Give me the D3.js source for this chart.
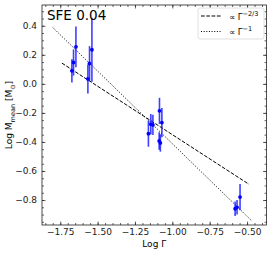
<!DOCTYPE html>
<html>
<head>
<meta charset="utf-8">
<script src="https://cdn.jsdelivr.net/npm/d3@7"></script>
<style>
  body { margin: 0; background: #fff; }
  text { font-family: "DejaVu Sans", sans-serif; }
</style>
</head>
<body>
<div id="chart"></div>
<script>
// data
var logGamma = [-1.672, -1.661, -1.645, -1.565, -1.554, -1.538,
                -1.160, -1.144, -1.130, -1.086, -1.070, -1.088, -1.080,
                -0.580, -0.567, -0.547];
var logM = [0.090, 0.147, 0.255, 0.034, 0.140, 0.235,
            -0.343, -0.278, -0.283, -0.186, -0.267, -0.393, -0.407,
            -0.860, -0.850, -0.780];
var errM = [0.08, 0.09, 0.14, 0.10, 0.12, 0.22,
            0.09, 0.07, 0.07, 0.09, 0.10, 0.06, 0.06,
            0.05, 0.05, 0.09];
var xTicks = [-1.75, -1.50, -1.25, -1.00, -0.75, -0.50];
var yTicks = [-0.8, -0.6, -0.4, -0.2, 0.0, 0.2, 0.4];
// reference power laws: [x0, y0, x1, slope]
var dashLine = [-1.739, 0.143, -0.487, -2 / 3];
var dotLine = [-1.800, 0.388, -0.470, -1];

var W = 274, H = 254;
var margin = {left: 42, top: 5, right: 7.5, bottom: 29};
var pw = W - margin.left - margin.right,
    ph = H - margin.top - margin.bottom;

var svg = d3.select("#chart").append("svg")
    .attr("width", W).attr("height", H);
var g = svg.append("g").attr("transform", "translate(" + margin.left + "," + margin.top + ")");

var x = d3.scaleLinear().domain([-1.872, -0.37]).range([0, pw]);
var y = d3.scaleLinear().domain([-0.972, 0.543]).range([ph, 0]);

var fmt = function(d) { return d3.format(".2f")(d).replace("-", "\u2212"); };
var fmtY = function(d) { return d3.format(".1f")(d).replace("-", "\u2212"); };

// axes with inward ticks on all sides
var xMinor = d3.range(-1.85, -0.36, 0.05);
var yMinor = d3.range(-0.95, 0.55, 0.05);

function ticks(axis, vals, len, fmtf, pad) {
  return axis.tickValues(vals).tickSizeInner(-len).tickSizeOuter(0).tickPadding(pad || 3)
    .tickFormat(fmtf || "");
}
g.append("g").attr("transform", "translate(0," + ph + ")").call(ticks(d3.axisBottom(x), xMinor, 2));
g.append("g").attr("transform", "translate(0," + ph + ")").call(ticks(d3.axisBottom(x), xTicks, 3.5, fmt, 3.5));
g.append("g").call(ticks(d3.axisTop(x), xMinor, 2));
g.append("g").call(ticks(d3.axisTop(x), xTicks, 3.5));
g.append("g").call(ticks(d3.axisLeft(y), yMinor, 2));
g.append("g").call(ticks(d3.axisLeft(y), yTicks, 3.5, fmtY, 5));
g.append("g").attr("transform", "translate(" + pw + ",0)").call(ticks(d3.axisRight(y), yMinor, 2));
g.append("g").attr("transform", "translate(" + pw + ",0)").call(ticks(d3.axisRight(y), yTicks, 3.5));

g.selectAll(".domain").remove();
g.selectAll(".tick line").attr("stroke", "#222").attr("stroke-width", 0.7);
g.selectAll(".tick text").attr("font-size", 9).attr("fill", "#222")
  .attr("font-family", "DejaVu Sans");

g.append("rect").attr("width", pw).attr("height", ph)
  .attr("fill", "none").attr("stroke", "#222").attr("stroke-width", 0.8);

// power law lines
function lawPath(p) {
  return d3.line()([[x(p[0]), y(p[1])], [x(p[2]), y(p[1] + p[3] * (p[2] - p[0]))]]);
}
g.append("path").attr("d", lawPath(dashLine)).attr("stroke", "#000")
  .attr("stroke-width", 1).attr("stroke-dasharray", "3.7,1.6").attr("fill", "none");
g.append("path").attr("d", lawPath(dotLine)).attr("stroke", "#000")
  .attr("stroke-width", 1).attr("stroke-dasharray", "1,1.65").attr("fill", "none");

// error bars and points
var pts = logGamma.map(function(v, i) { return {x: v, y: logM[i], e: errM[i]}; });
g.selectAll(".err").data(pts).enter().append("line")
  .attr("x1", function(d) { return x(d.x); }).attr("x2", function(d) { return x(d.x); })
  .attr("y1", function(d) { return y(d.y - d.e); }).attr("y2", function(d) { return y(d.y + d.e); })
  .attr("stroke", "#0000ff").attr("stroke-width", 1.6).attr("opacity", 0.75);
g.selectAll(".pt").data(pts).enter().append("circle")
  .attr("cx", function(d) { return x(d.x); }).attr("cy", function(d) { return y(d.y); })
  .attr("r", 1.9).attr("fill", "#0000ff");

// title text
g.append("text").attr("x", 5).attr("y", 14.5).attr("font-size", 13.5).attr("fill", "#000")
  .text("SFE 0.04");

// legend
var lg = svg.append("g").attr("transform", "translate(198,8)");
lg.append("rect").attr("width", 66).attr("height", 31).attr("rx", 2)
  .attr("fill", "#fff").attr("stroke", "#d8d8d8").attr("stroke-width", 0.8);
lg.append("line").attr("x1", 3).attr("x2", 23).attr("y1", 8).attr("y2", 8)
  .attr("stroke", "#000").attr("stroke-width", 1).attr("stroke-dasharray", "3.7,1.6");
lg.append("line").attr("x1", 3).attr("x2", 23).attr("y1", 23.5).attr("y2", 23.5)
  .attr("stroke", "#000").attr("stroke-width", 1).attr("stroke-dasharray", "1,1.65");
var l1 = lg.append("text").attr("x", 31).attr("y", 11.5).attr("font-size", 8.5);
l1.append("tspan").text("\u221d \u0393");
l1.append("tspan").attr("dy", -3.8).attr("font-size", 6.5).text("\u22122/3");
var l2 = lg.append("text").attr("x", 31).attr("y", 27).attr("font-size", 8.5);
l2.append("tspan").text("\u221d \u0393");
l2.append("tspan").attr("dy", -3.8).attr("font-size", 6.5).text("\u22121");

// axis labels
svg.append("text").attr("x", margin.left + pw / 2).attr("y", 247)
  .attr("text-anchor", "middle").attr("font-size", 9).text("Log \u0393");
var yl = svg.append("text").attr("transform", "translate(12," + (margin.top + ph / 2) + ") rotate(-90)")
  .attr("text-anchor", "middle").attr("font-size", 9);
yl.append("tspan").text("Log M");
yl.append("tspan").attr("dy", 2.5).attr("font-size", 6.5).text("mean");
yl.append("tspan").attr("dy", -2.5).text(" [M");
yl.append("tspan").attr("dy", 2.5).attr("font-size", 6.5).text("\u2299");
yl.append("tspan").attr("dy", -2.5).text("]");
</script>
</body>
</html>
